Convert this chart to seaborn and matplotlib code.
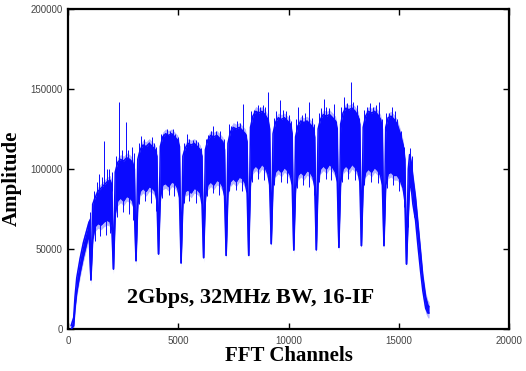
import numpy as np
import pandas as pd
import matplotlib
matplotlib.use('Agg')
import matplotlib.pyplot as plt
import seaborn as sns

# 16 IFs of 1024 FFT channels each
IF_WIDTH = 1024
N_IF = 16
# channels inside an IF where the band edges were read
if_offsets = [80, 190, 320, 460, 600, 740, 870, 950]

# depth of the notch at the start of IF2 .. IF16
dip_amp = [30700, 37500, 42700, 46900, 41300, 44600, 46000, 46000,
           53300, 49400, 49500, 51000, 52100, 52100, 40600]

# dense core of IF2 .. IF15 (bottom / top of the solid band)
core_lo = [
    [56000, 64000, 66000, 65000, 67000, 68000, 67000, 62000],
    [72000, 80000, 82000, 80000, 83000, 82000, 80000, 74000],
    [78000, 86000, 88000, 86000, 89000, 88000, 86000, 80000],
    [82000, 90000, 91000, 89000, 92000, 91000, 88000, 82000],
    [78000, 86000, 87000, 85000, 88000, 87000, 85000, 78000],
    [82000, 90000, 92000, 90000, 93000, 92000, 89000, 83000],
    [85000, 92000, 94000, 92000, 95000, 94000, 91000, 85000],
    [92000, 100000, 102000, 100000, 103000, 101000, 97000, 90000],
    [90000, 98000, 100000, 98000, 101000, 99000, 96000, 90000],
    [88000, 96000, 98000, 96000, 99000, 98000, 95000, 89000],
    [92000, 100000, 102000, 100000, 103000, 101000, 98000, 92000],
    [92000, 100000, 102000, 100000, 103000, 101000, 98000, 92000],
    [90000, 98000, 100000, 98000, 101000, 99000, 96000, 90000],
    [90000, 97000, 98000, 96000, 96000, 93000, 88000, 80000],
]
core_hi = [
    [78000, 82000, 86000, 88000, 90000, 92000, 93000, 90000],
    [98000, 104000, 106000, 105000, 107000, 106000, 104000, 100000],
    [106000, 112000, 115000, 114000, 116000, 114000, 112000, 108000],
    [114000, 120000, 122000, 121000, 122000, 120000, 118000, 114000],
    [108000, 113000, 116000, 115000, 116000, 114000, 112000, 108000],
    [112000, 118000, 121000, 120000, 121000, 119000, 117000, 112000],
    [116000, 123000, 126000, 125000, 126000, 124000, 122000, 117000],
    [126000, 133000, 136000, 135000, 136000, 134000, 131000, 125000],
    [122000, 129000, 132000, 131000, 132000, 130000, 128000, 122000],
    [120000, 127000, 130000, 129000, 130000, 128000, 126000, 120000],
    [125000, 131000, 134000, 133000, 134000, 132000, 130000, 125000],
    [128000, 135000, 138000, 137000, 138000, 136000, 133000, 128000],
    [126000, 133000, 136000, 135000, 136000, 134000, 131000, 125000],
    [126000, 132000, 133000, 131000, 128000, 122000, 115000, 106000],
]

# first IF (rising edge) and last IF (roll-off)
if1_ch = [120, 240, 300, 380, 530, 680, 840, 940]
if1_lo = [0, 2000, 13000, 23000, 35000, 45000, 54000, 60000]
if1_hi = [2000, 7000, 20000, 32000, 44000, 54000, 62000, 67000]
if16_ch = [15440, 15500, 15575, 15650, 15770, 15880, 16000, 16100, 16230, 16330, 16384]
if16_lo = [70000, 90000, 88000, 78000, 68000, 52000, 36000, 24000, 13000, 10000, 10000]
if16_hi = [100000, 109000, 104000, 95000, 82000, 66000, 48000, 33000, 20000, 15000, 14000]

# spikes above the band
up_ch = [930, 990,
         1150, 1300, 1400, 1520, 1640, 1750, 1850, 1960,
         2150, 2318, 2450, 2610, 2700, 2870, 2980,
         3200, 3305, 3450, 3640, 3780, 3900, 4000,
         4200, 4300, 4470, 4600, 4750, 4850, 5000,
         5250, 5380, 5500, 5650, 5780, 5910, 6030,
         6250, 6350, 6480, 6590, 6700, 6890, 7050,
         7300, 7400, 7500, 7650, 7800, 7955, 8080,
         8300, 8450, 8600, 8710, 8850, 8950, 9090,
         9320, 9450, 9620, 9750, 9880, 10000, 10120,
         10350, 10450, 10600, 10750, 10910, 11050, 11150,
         11380, 11480, 11590, 11720, 11850, 12050, 12180,
         12400, 12500, 12650, 12835, 12950, 13100, 13220,
         13430, 13560, 13700, 13850, 13980, 14090, 14230,
         14450, 14550, 14700, 14820, 14950, 15100, 15250,
         15500, 15600]
up_amp = [69000, 72900,
          86000, 92000, 97000, 95000, 117400, 100000, 100000, 98000,
          108000, 141600, 112000, 129100, 112000, 113500, 110000,
          116000, 120800, 119000, 116600, 120000, 116000, 114000,
          122000, 122000, 125000, 124000, 125000, 121900, 120000,
          116000, 121900, 119000, 118000, 118000, 116600, 113000,
          119000, 121000, 124000, 127000, 124000, 124000, 119000,
          128000, 127000, 125000, 130000, 129000, 140600, 122000,
          136000, 137000, 140000, 138500, 140000, 139000, 147900,
          132000, 136000, 143100, 137000, 136000, 133500, 130000,
          131000, 138500, 134000, 135000, 141600, 132000, 128000,
          135000, 138000, 143700, 139000, 138000, 140600, 130000,
          139000, 145000, 141000, 154100, 142000, 140000, 132000,
          137000, 138500, 141000, 139000, 140000, 141600, 131000,
          135000, 135000, 138500, 136000, 131000, 124000, 114000,
          113000, 108000]

# spikes below the band
down_ch = [1200, 1450, 1700, 1900, 2200, 2500, 2750, 2950, 3200, 3500, 3750, 3980,
           4250, 4550, 4800, 5020, 5250, 5500, 5800, 6050, 6280, 6550, 6850, 7080,
           7300, 7600, 7900, 8100, 8320, 8600, 8900, 9120, 9350, 9650, 9950, 10150,
           10370, 10650, 10950, 11180, 11400, 11700, 11950, 12200, 12420, 12700,
           13000, 13230, 13450, 13750, 14050, 14260, 14480, 14750, 15000, 15250,
           15450, 15700]
down_amp = [55000, 58000, 59000, 60000, 70000, 73000, 72000, 68000, 78000, 80000,
            79000, 74000, 82000, 84000, 83000, 78000, 79000, 80000, 79000, 74000,
            83000, 85000, 84000, 78000, 86000, 87000, 86000, 80000, 92000, 94000,
            93000, 86000, 90000, 92000, 91000, 85000, 88000, 90000, 89000, 84000,
            92000, 94000, 93000, 86000, 92000, 94000, 93000, 87000, 90000, 92000,
            91000, 84000, 88000, 90000, 86000, 76000, 64000, 70000]

# assemble the band envelope
ch, lo, hi = list(if1_ch), list(if1_lo), list(if1_hi)
for k in range(1, N_IF):
    b = k * IF_WIDTH
    ch.append(b); lo.append(dip_amp[k - 1]); hi.append(dip_amp[k - 1])
    if k < N_IF - 1:
        ch += [b + o for o in if_offsets]
        lo += core_lo[k - 1]
        hi += core_hi[k - 1]
ch += if16_ch; lo += if16_lo; hi += if16_hi
env = pd.DataFrame({'ch': ch, 'lo': lo, 'hi': hi})

blue = '#0a0aff'
sns.set_theme(style='ticks')
plt.rcParams['font.family'] = ['Liberation Sans', 'DejaVu Sans']

fig = plt.figure(figsize=(5.26, 3.71), dpi=100)
ax = fig.add_axes([0.130, 0.113, 0.837, 0.863])

up_base = np.interp(up_ch, env['ch'], env['hi']) - 4000
down_base = np.interp(down_ch, env['ch'], env['lo']) + 4000
ax.vlines(up_ch, up_base, up_amp, color=blue, lw=0.7, zorder=2)
ax.vlines(down_ch, down_amp, down_base, color=blue, lw=0.7, zorder=2)
ax.fill_between(env['ch'], env['lo'] - 3000, env['hi'] + 3000, color=blue, alpha=0.3,
                lw=0, zorder=2)
ax.fill_between(env['ch'], env['lo'], env['hi'], color=blue, lw=0, zorder=3)
sns.lineplot(data=env, x='ch', y='lo', color=blue, lw=1.1, ax=ax, zorder=3)
sns.lineplot(data=env, x='ch', y='hi', color=blue, lw=1.1, ax=ax, zorder=3)

ax.set_xlim(0, 20000)
ax.set_ylim(0, 200000)
ax.set_xticks(np.arange(0, 20001, 5000))
ax.set_yticks(np.arange(0, 200001, 50000))
ax.tick_params(direction='in', length=4, width=1, top=True, right=True,
               labelsize=7, labelcolor='#444444', color='black')
ax.tick_params(axis='x', pad=5)
ax.tick_params(axis='y', pad=4)
for s in ax.spines.values():
    s.set_linewidth(1.6)
    s.set_color('black')

serif = ['Liberation Serif', 'DejaVu Serif']
ax.set_xlabel('FFT Channels', fontsize=15, fontweight='bold', family=serif,
              color='black', labelpad=0)
ax.set_ylabel('Amplitude', fontsize=15, fontweight='bold', family=serif,
              color='black')
ax.yaxis.set_label_coords(-0.105, 0.47)
ax.text(8260, 19600, '2Gbps, 32MHz BW, 16-IF', fontsize=16, fontweight='bold',
        family=serif, color='black', ha='center', va='center')

fig.savefig('out.png', dpi=100)
